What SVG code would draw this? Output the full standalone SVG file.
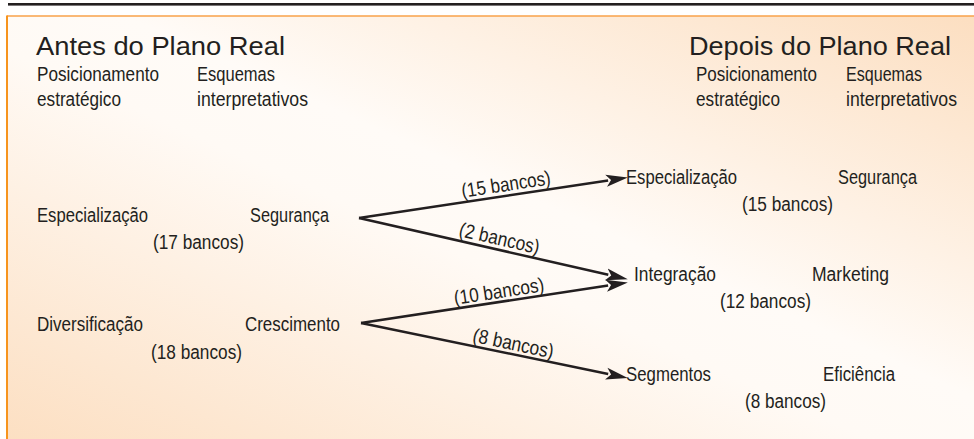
<svg xmlns="http://www.w3.org/2000/svg" width="974" height="439" viewBox="0 0 974 439">
<defs>
<linearGradient id="bg" x1="0" y1="1" x2="1" y2="0">
<stop offset="0" stop-color="#fcdec0"/>
<stop offset="0.46" stop-color="#fffaf5"/>
<stop offset="0.56" stop-color="#fffbf7"/>
<stop offset="1" stop-color="#fcdec0"/>
</linearGradient>
<marker id="ah" viewBox="-12 -7 24 14" refX="-10" refY="0" markerWidth="24" markerHeight="14" markerUnits="userSpaceOnUse" orient="auto">
<path d="M10,0 L-12,-6 L-7,0 L-12,6 Z" fill="#231f20"/>
</marker>
<style>
text{font-family:"Liberation Sans",Arial,sans-serif;fill:#231f20;font-size:20px}
.t{font-size:26px}
.e{stroke:#231f20;stroke-width:2.5;fill:none;marker-end:url(#ah)}
</style>
</defs>
<rect x="8" y="3" width="966" height="2.6" fill="#231f20"/>
<rect x="7" y="16" width="980" height="440" fill="url(#bg)"/>
<line x1="7" y1="16" x2="974" y2="16" stroke="#f9a24a" stroke-width="1.5"/>
<line x1="7" y1="15.5" x2="7" y2="439" stroke="#f7941d" stroke-width="2"/>

<g id="header-left">
<text class="t" x="36" y="55" textLength="249" lengthAdjust="spacingAndGlyphs">Antes do Plano Real</text>
<text x="37" y="81" textLength="122" lengthAdjust="spacingAndGlyphs">Posicionamento</text>
<text x="37" y="106" textLength="84" lengthAdjust="spacingAndGlyphs">estratégico</text>
<text x="197" y="81" textLength="78" lengthAdjust="spacingAndGlyphs">Esquemas</text>
<text x="197" y="106" textLength="111" lengthAdjust="spacingAndGlyphs">interpretativos</text>
</g>
<g id="header-right">
<text class="t" x="689" y="55" textLength="262" lengthAdjust="spacingAndGlyphs">Depois do Plano Real</text>
<text x="696" y="81" textLength="121" lengthAdjust="spacingAndGlyphs">Posicionamento</text>
<text x="696" y="106" textLength="84" lengthAdjust="spacingAndGlyphs">estratégico</text>
<text x="846" y="81" textLength="76" lengthAdjust="spacingAndGlyphs">Esquemas</text>
<text x="846" y="106" textLength="111" lengthAdjust="spacingAndGlyphs">interpretativos</text>
</g>

<g id="before-especializacao">
<text x="37" y="222" textLength="111" lengthAdjust="spacingAndGlyphs">Especialização</text>
<text x="250" y="222" textLength="79" lengthAdjust="spacingAndGlyphs">Segurança</text>
<text x="153" y="249" textLength="91" lengthAdjust="spacingAndGlyphs">(17 bancos)</text>
</g>
<g id="before-diversificacao">
<text x="37" y="331" textLength="106" lengthAdjust="spacingAndGlyphs">Diversificação</text>
<text x="245" y="331" textLength="95" lengthAdjust="spacingAndGlyphs">Crescimento</text>
<text x="151" y="359" textLength="91" lengthAdjust="spacingAndGlyphs">(18 bancos)</text>
</g>

<g id="after-especializacao">
<text x="626" y="184" textLength="111" lengthAdjust="spacingAndGlyphs">Especialização</text>
<text x="838" y="184" textLength="79" lengthAdjust="spacingAndGlyphs">Segurança</text>
<text x="742" y="211" textLength="91" lengthAdjust="spacingAndGlyphs">(15 bancos)</text>
</g>
<g id="after-integracao">
<text x="634" y="281" textLength="82" lengthAdjust="spacingAndGlyphs">Integração</text>
<text x="812" y="281" textLength="77" lengthAdjust="spacingAndGlyphs">Marketing</text>
<text x="720" y="308" textLength="91" lengthAdjust="spacingAndGlyphs">(12 bancos)</text>
</g>
<g id="after-segmentos">
<text x="626" y="381" textLength="85" lengthAdjust="spacingAndGlyphs">Segmentos</text>
<text x="823" y="381" textLength="72" lengthAdjust="spacingAndGlyphs">Eficiência</text>
<text x="745" y="408" textLength="81" lengthAdjust="spacingAndGlyphs">(8 bancos)</text>
</g>

<g id="connectors">
<line class="e" x1="359" y1="218" x2="608.1" y2="180.5"/>
<line class="e" x1="359" y1="218" x2="608.3" y2="274.8"/>
<line class="e" x1="361" y1="323" x2="608.1" y2="285.5"/>
<line class="e" x1="361" y1="323" x2="608.2" y2="374"/>
<text x="507" y="191" text-anchor="middle" transform="rotate(-8.6 507 191)" textLength="90" lengthAdjust="spacingAndGlyphs">(15 bancos)</text>
<text x="498" y="245" text-anchor="middle" transform="rotate(12.9 498 245)" textLength="82" lengthAdjust="spacingAndGlyphs">(2 bancos)</text>
<text x="500" y="298" text-anchor="middle" transform="rotate(-8.7 500 298)" textLength="91" lengthAdjust="spacingAndGlyphs">(10 bancos)</text>
<text x="512" y="350" text-anchor="middle" transform="rotate(11.7 512 350)" textLength="82" lengthAdjust="spacingAndGlyphs">(8 bancos)</text>
</g>
</svg>
